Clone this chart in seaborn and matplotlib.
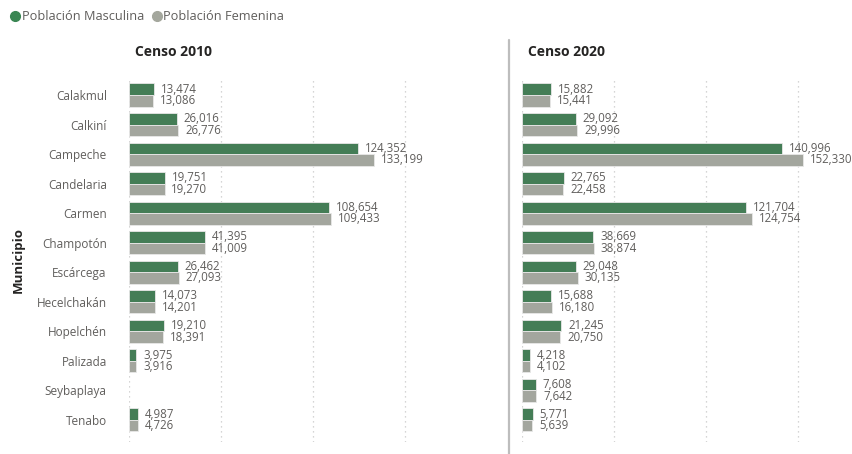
import matplotlib
matplotlib.use("Agg")
import matplotlib.pyplot as plt
from matplotlib.lines import Line2D
import seaborn as sns
import pandas as pd
import numpy as np

# datos de los censos por municipio
municipios = ["Calakmul", "Calkiní", "Campeche", "Candelaria", "Carmen", "Champotón",
              "Escárcega", "Hecelchakán", "Hopelchén", "Palizada", "Seybaplaya", "Tenabo"]
masc_2010 = [13474, 26016, 124352, 19751, 108654, 41395, 26462, 14073, 19210, 3975, np.nan, 4987]
fem_2010 = [13086, 26776, 133199, 19270, 109433, 41009, 27093, 14201, 18391, 3916, np.nan, 4726]
masc_2020 = [15882, 29092, 140996, 22765, 121704, 38669, 29048, 15688, 21245, 4218, 7608, 5771]
fem_2020 = [15441, 29996, 152330, 22458, 124754, 38874, 30135, 16180, 20750, 4102, 7642, 5639]
series = ["Población Masculina", "Población Femenina"]
colores = ["#3A8653", "#A4A79D"]

TXT = "#605E5C"
DARK = "#252423"

sns.set_style("white")
plt.rcParams["font.family"] = ["Open Sans", "DejaVu Sans"]


def to_long(masc, fem):
    df = pd.DataFrame({"Municipio": municipios, series[0]: masc, series[1]: fem})
    return df.melt(id_vars="Municipio", var_name="Serie", value_name="Valor")


fig = plt.figure(figsize=(8.53, 4.54), dpi=100)
ax1 = fig.add_axes([129 / 853, 1 - 442 / 454, 304 / 853, 365 / 454])
ax2 = fig.add_axes([522 / 853, 1 - 442 / 454, 304 / 853, 365 / 454])

for ax, (m, f) in zip([ax1, ax2], [(masc_2010, fem_2010), (masc_2020, fem_2020)]):
    df = to_long(m, f)
    sns.barplot(data=df, y="Municipio", x="Valor", hue="Serie", order=municipios,
                hue_order=series, palette=colores, orient="h", width=0.78,
                edgecolor="#E8E8E8", linewidth=0.6, legend=False, ax=ax)
    for c in ax.containers:
        labs = ["" if np.isnan(p.get_width()) else f"{p.get_width():,.0f}" for p in c]
        ax.bar_label(c, labels=labs, padding=5, fontsize=8.3, color=TXT)
    ax.set_xlim(0, 165000)
    ax.set_ylim(11.75, -0.61)
    ax.set_xticks([0, 50000, 100000, 150000])
    ax.grid(axis="x", linestyle=(0, (1, 3)), color="#C8C8C8", linewidth=0.9)
    ax.set_axisbelow(True)
    ax.set_xticklabels([])
    ax.tick_params(axis="both", length=0)
    ax.set_xlabel("")
    ax.set_ylabel("")
    sns.despine(ax=ax, left=True, bottom=True)

ax1.tick_params(axis="y", pad=16, labelsize=8.5, labelcolor=TXT)
ax2.set_yticklabels([])

fig.text(135 / 853, 1 - 52 / 454, "Censo 2010", fontsize=10, fontweight="bold",
         color=DARK, va="center", ha="left")
fig.text(528 / 853, 1 - 52 / 454, "Censo 2020", fontsize=10, fontweight="bold",
         color=DARK, va="center", ha="left")
fig.text(18 / 853, 1 - 260 / 454, "Municipio", fontsize=9.5, fontweight="bold",
         color=DARK, va="center", ha="center", rotation=90)

# separador entre paneles
fig.add_artist(Line2D([509.5 / 853, 509.5 / 853], [0, 1 - 40 / 454], color="#BDBDBD",
                      linewidth=1.6, transform=fig.transFigure))

handles = [Line2D([], [], marker="o", linestyle="", markersize=7, color=c) for c in colores]
fig.legend(handles, series, loc="center left", bbox_to_anchor=(9 / 853, 1 - 17 / 454),
           ncol=2, frameon=False, fontsize=9.2, labelcolor=TXT, handletextpad=0.0,
           columnspacing=0.5, handlelength=1.0, borderaxespad=0, borderpad=0)

fig.savefig("out.png", dpi=100)
